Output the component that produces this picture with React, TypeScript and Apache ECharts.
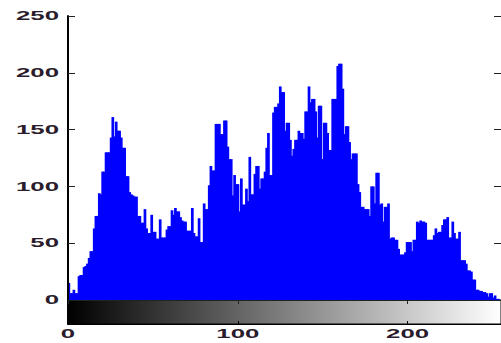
import React, { useEffect, useRef } from "react";
import * as echarts from "echarts";

const counts: number[] = [
  15, 6, 6, 9, 6, 6, 21, 22, 22, 29,
  30, 32, 37, 43, 43, 63, 74, 74, 94, 93,
  113, 113, 130, 130, 130, 143, 161, 144, 157, 149,
  149, 143, 134, 134, 109, 109, 95, 93, 92, 91,
  91, 74, 74, 68, 68, 80, 63, 59, 59, 75,
  60, 60, 54, 54, 71, 55, 55, 55, 62, 65,
  65, 79, 75, 81, 78, 78, 73, 70, 69, 69,
  61, 61, 61, 81, 59, 56, 56, 72, 51, 51,
  85, 80, 80, 101, 118, 114, 114, 155, 155, 155,
  146, 146, 158, 158, 135, 124, 124, 92, 110, 102,
  102, 78, 107, 84, 84, 98, 87, 126, 93, 93,
  111, 118, 118, 98, 107, 107, 113, 134, 147, 110,
  110, 165, 170, 170, 173, 188, 183, 183, 149, 156,
  156, 141, 127, 133, 141, 141, 149, 147, 147, 142,
  166, 166, 188, 174, 177, 177, 166, 143, 171, 171,
  124, 156, 156, 147, 132, 132, 177, 177, 177, 206,
  208, 208, 186, 146, 153, 153, 139, 124, 129, 129,
  129, 102, 95, 82, 82, 80, 80, 80, 74, 100,
  100, 85, 112, 112, 84, 85, 69, 82, 82, 85,
  54, 55, 55, 53, 53, 45, 40, 40, 40, 42,
  51, 51, 51, 43, 53, 53, 69, 68, 70, 69,
  69, 68, 53, 53, 53, 53, 57, 63, 59, 60,
  60, 66, 71, 71, 73, 55, 55, 69, 59, 54,
  54, 60, 35, 35, 35, 32, 26, 26, 25, 18,
  18, 9, 9, 8, 8, 7, 7, 6, 3, 6,
  6, 2, 4, 1, 1, 0,
];
const bins: string[] = counts.map((_, i) => String(i));
const yTicks: number[] = [0, 50, 100, 150, 200, 250];
const xTicks: number[] = [0, 100, 200];

const LABEL_COLOR = "#2a1c2c";
const LABEL_FONT = {
  fontFamily: "Liberation Sans",
  fontSize: 12,
  fontWeight: "bold" as const,
  fill: LABEL_COLOR,
};

export default function App() {
  const ref = useRef<HTMLDivElement>(null);
  useEffect(() => {
    if (!ref.current) return;
    const chart = echarts.init(ref.current, null, { renderer: "svg" });
    const black = { show: true, lineStyle: { color: "#000", width: 1 } };
    chart.setOption({
      animation: false,
      backgroundColor: "#fff",
      grid: [
        { left: 68, top: 16, width: 434, height: 284, show: false },
        {
          left: 68,
          top: 300,
          width: 434,
          height: 24,
          show: true,
          borderColor: "#000",
          borderWidth: 1,
          backgroundColor: new echarts.graphic.LinearGradient(0, 0, 1, 0, [
            { offset: 0, color: "#000" },
            { offset: 1, color: "#fff" },
          ]),
        },
      ],
      xAxis: [
        {
          type: "category",
          gridIndex: 0,
          data: bins,
          boundaryGap: true,
          axisLine: black,
          axisTick: { show: false },
          axisLabel: { show: false },
          splitLine: { show: false },
        },
        {
          type: "value",
          gridIndex: 0,
          position: "top",
          min: 0,
          max: 255,
          interval: 100,
          axisLine: { show: true, lineStyle: { color: "#222", width: 1 } },
          axisTick: { show: true, inside: true, length: 4, lineStyle: { color: "#222" } },
          axisLabel: { show: false },
          splitLine: { show: false },
        },
        {
          type: "value",
          gridIndex: 1,
          position: "bottom",
          min: 0,
          max: 255,
          interval: 100,
          axisLine: black,
          axisTick: { show: true, inside: true, length: 3, lineStyle: { color: "#000" } },
          axisLabel: { show: false },
          splitLine: { show: false },
        },
      ],
      yAxis: [
        {
          type: "value",
          gridIndex: 0,
          position: "left",
          min: 0,
          max: 250,
          interval: 50,
          axisLine: { show: true, lineStyle: { color: "#000", width: 2 } },
          axisTick: { show: true, inside: true, length: 7, lineStyle: { color: "#222" } },
          axisLabel: { show: false },
          splitLine: { show: false },
          z: 5,
        },
        {
          type: "value",
          gridIndex: 0,
          position: "right",
          min: 0,
          max: 250,
          interval: 50,
          axisLine: { show: true, lineStyle: { color: "#222", width: 1 } },
          axisTick: { show: true, inside: true, length: 7, lineStyle: { color: "#222" } },
          axisLabel: { show: false },
          splitLine: { show: false },
        },
        {
          type: "value",
          gridIndex: 1,
          position: "left",
          min: 0,
          max: 1,
          axisLine: { show: true, lineStyle: { color: "#000", width: 2 } },
          axisTick: { show: false },
          axisLabel: { show: false },
          splitLine: { show: false },
        },
      ],
      series: [
        {
          type: "bar",
          xAxisIndex: 0,
          yAxisIndex: 0,
          data: counts,
          barWidth: "160%",
          itemStyle: { color: "#0000ff" },
          z: 1,
        },
      ],
    });

    const axisX = chart.convertToPixel({ xAxisIndex: 2 }, 0) as number;
    const barBottom = chart.convertToPixel({ yAxisIndex: 2 }, 0) as number;
    const labels: any[] = [];
    yTicks.forEach((v) => {
      const py = chart.convertToPixel({ yAxisIndex: 0 }, v) as number;
      labels.push({
        type: "text",
        x: axisX - 9,
        y: py,
        scaleX: 2.15,
        style: { ...LABEL_FONT, text: String(v), align: "right", verticalAlign: "middle" },
      });
    });
    xTicks.forEach((v) => {
      const px = chart.convertToPixel({ xAxisIndex: 2 }, v) as number;
      labels.push({
        type: "text",
        x: px,
        y: barBottom + 10,
        scaleX: 2.15,
        style: { ...LABEL_FONT, text: String(v), align: "center", verticalAlign: "middle" },
      });
    });
    chart.setOption({ graphic: labels });

    return () => chart.dispose();
  }, []);
  return (
    <div
      ref={ref}
      style={{ position: "fixed", left: 0, top: 0, width: 501, height: 343 }}
    />
  );
}
